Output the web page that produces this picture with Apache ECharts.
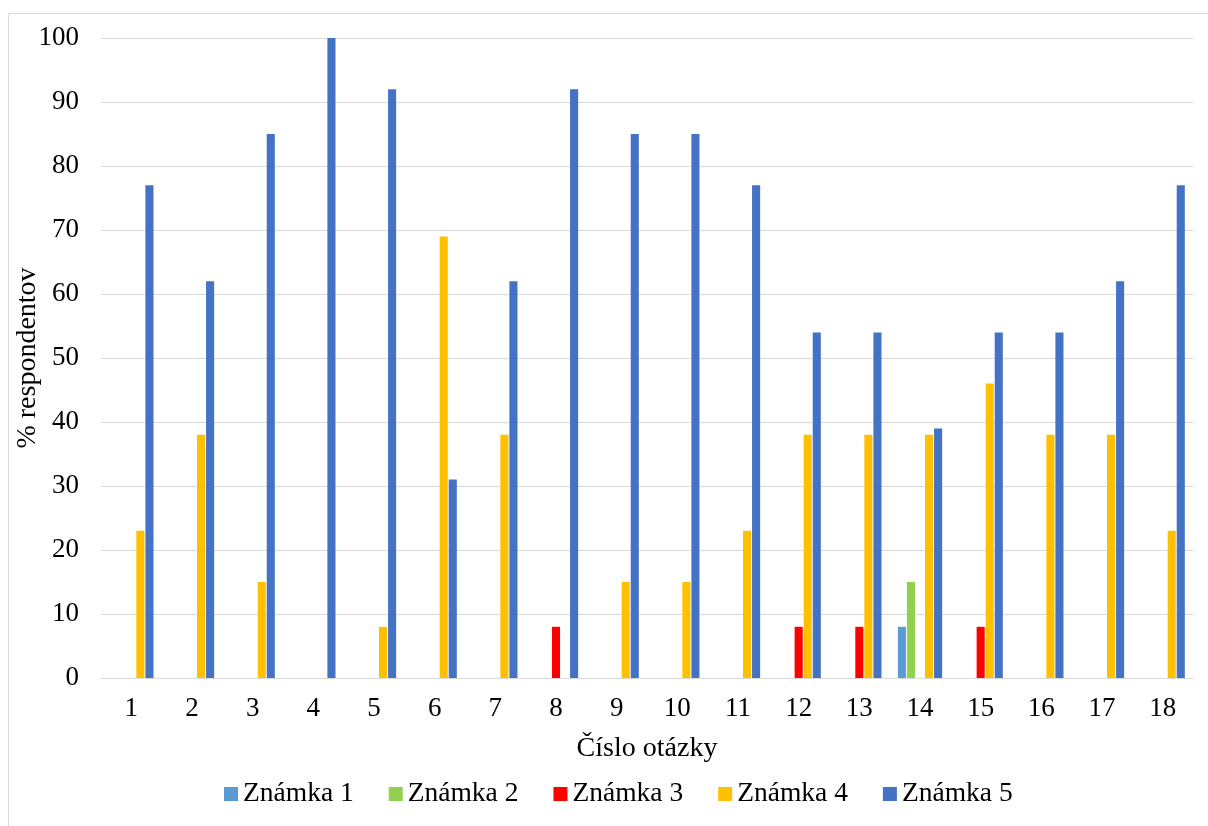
<!DOCTYPE html>
<html><head><meta charset="utf-8">
<script src="https://cdn.jsdelivr.net/npm/echarts@6/dist/echarts.min.js"></script>
<style>html,body{margin:0;padding:0;background:#fff}#c{width:1208px;height:826px}</style>
</head><body><div id="c"></div>
<script>
const categories = ['1','2','3','4','5','6','7','8','9','10','11','12','13','14','15','16','17','18'];
const znamka1 = [0,0,0,0,0,0,0,0,0,0,0,0,0,8,0,0,0,0];
const znamka2 = [0,0,0,0,0,0,0,0,0,0,0,0,0,15,0,0,0,0];
const znamka3 = [0,0,0,0,0,0,0,8,0,0,0,8,8,0,8,0,0,0];
const znamka4 = [23,38,15,0,8,69,38,0,15,15,23,38,38,38,46,38,38,23];
const znamka5 = [77,62,85,100,92,31,62,92,85,85,77,54,54,39,54,54,62,77];
const seriesNames = ['Známka 1','Známka 2','Známka 3','Známka 4','Známka 5'];
const colors = ['#5B9BD5','#92D050','#FF0000','#FFC000','#4472C4'];
const font = "'Liberation Serif','Times New Roman',serif";
const chart = echarts.init(document.getElementById('c'), null, {renderer:'canvas'});
const data = [znamka1, znamka2, znamka3, znamka4, znamka5];
chart.setOption({
  animation:false,
  backgroundColor:'#fff',
  textStyle:{fontFamily:font,color:'#000'},
  graphic:[{type:'rect',shape:{x:8.5,y:13.5,width:1400,height:1000},style:{fill:'none',stroke:'#d9d9d9',lineWidth:1},silent:true}],
  grid:{left:101,right:15,top:38,bottom:148,containLabel:false,outerBoundsMode:'none'},
  legend:{
    top:780,left:224,padding:0,itemWidth:14,itemHeight:14,itemGap:35,
    icon:'rect',
    textStyle:{fontFamily:font,fontSize:27.5,lineHeight:28,color:'#000'},
    data:seriesNames
  },
  xAxis:{
    type:'category',data:categories,
    name:'Číslo otázky',nameLocation:'middle',nameGap:57,nameMoveOverlap:false,
    nameTextStyle:{fontFamily:font,fontSize:28,color:'#000'},
    axisLine:{lineStyle:{color:'#d9d9d9',width:1}},
    axisTick:{show:false},
    axisLabel:{fontFamily:font,fontSize:27,color:'#000',margin:17}
  },
  yAxis:{
    type:'value',min:0,max:100,interval:10,
    name:'% respondentov',nameLocation:'middle',nameGap:59,nameRotate:90,nameMoveOverlap:false,
    nameTextStyle:{fontFamily:font,fontSize:28,color:'#000'},
    axisLine:{show:false},axisTick:{show:false},
    splitLine:{lineStyle:{color:'#d9d9d9',width:1}},
    axisLabel:{fontFamily:font,fontSize:27,color:'#000',margin:22}
  },
  series: seriesNames.map((n,i)=>({
    name:n,type:'bar',data:data[i],
    itemStyle:{color:colors[i]},
    barGap:'12%',barCategoryGap:'27%'
  }))
});
</script></body></html>
